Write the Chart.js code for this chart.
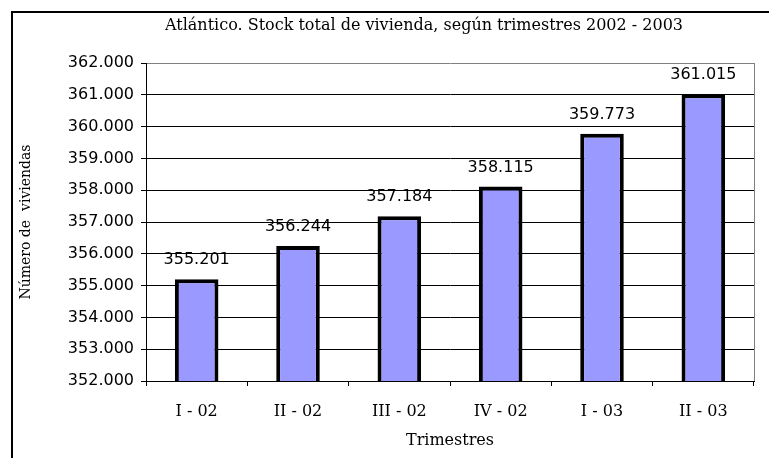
<!DOCTYPE html>
<html>
<head>
<meta charset="utf-8">
<script src="https://cdn.jsdelivr.net/npm/chart.js@4/dist/chart.umd.min.js"></script>
<style>
  html, body { margin: 0; padding: 0; background: #fff; overflow: hidden; }
  #frame { position: absolute; left: 11px; top: 11px; width: 900px; height: 600px; border-left: 2px solid #000; border-top: 2px solid #000; }
  #wrap { position: absolute; left: 0; top: 0; width: 769px; height: 458px; }
</style>
</head>
<body>
<div id="frame"></div>
<div id="wrap"><canvas id="canvas" width="769" height="458"></canvas></div>
<script>
'use strict';

const quarters = ['I - 02', 'II - 02', 'III - 02', 'IV - 02', 'I - 03', 'II - 03'];
const housingStock = [355201, 356244, 357184, 358115, 359773, 361015];
const yMin = 352000;
const yMax = 362000;
const yStep = 1000;

const chartTitle = 'Atlántico. Stock total de vivienda, según trimestres 2002 - 2003';
const yTitle = 'Número de  viviendas';
const xTitle = 'Trimestres';

function formatThousands(value) {
  return String(Math.round(value)).replace(/\B(?=(\d{3})+(?!\d))/g, '.');
}

// title, value labels above the bars and the grey right edge of the plot
const extras = {
  id: 'extras',
  afterDatasetsDraw(chart) {
    const ctx = chart.ctx;
    const area = chart.chartArea;
    ctx.save();
    ctx.strokeStyle = '#808080';
    ctx.lineWidth = 1;
    ctx.beginPath();
    ctx.moveTo(area.right + 0.5, area.top);
    ctx.lineTo(area.right + 0.5, area.bottom);
    ctx.stroke();

    ctx.fillStyle = '#000';
    ctx.textAlign = 'center';
    ctx.textBaseline = 'middle';
    ctx.font = '16px "DejaVu Serif"';
    ctx.fillText(chartTitle, 424, 26);

    ctx.font = '16px "DejaVu Sans"';
    const meta = chart.getDatasetMeta(0);
    meta.data.forEach(function(bar, i) {
      ctx.fillText(formatThousands(housingStock[i]), bar.x, bar.y - 19);
    });
    ctx.restore();
  }
};

const ctx = document.getElementById('canvas').getContext('2d');
new Chart(ctx, {
  type: 'bar',
  data: {
    labels: quarters,
    datasets: [{
      data: housingStock,
      backgroundColor: '#9999FF',
      borderColor: '#000000',
      borderWidth: 4,
      borderSkipped: false,
      barPercentage: 0.43,
      categoryPercentage: 1
    }]
  },
  plugins: [extras],
  options: {
    responsive: false,
    animation: false,
    layout: { padding: { left: 14, right: 15, top: 63, bottom: 0 } },
    plugins: {
      legend: { display: false },
      tooltip: { enabled: false },
      title: { display: false }
    },
    scales: {
      x: {
        afterFit: function(scale) { scale.height = 77; },
        border: { color: '#000', width: 1 },
        grid: { drawOnChartArea: false, drawTicks: true, tickLength: 5, tickColor: '#000', offset: true },
        ticks: {
          color: '#000',
          padding: 16,
          maxRotation: 0,
          font: { family: 'DejaVu Serif', size: 16 }
        },
        title: {
          display: true,
          text: xTitle,
          color: '#000',
          font: { family: 'DejaVu Serif', size: 16 },
          padding: { top: 0, bottom: 8 }
        }
      },
      y: {
        min: yMin,
        max: yMax,
        afterFit: function(scale) { scale.width = 132; },
        border: { color: '#000', width: 1 },
        grid: {
          color: function(c) { return c.tick && c.tick.value === yMax ? '#808080' : '#000'; },
          lineWidth: 1,
          tickLength: 5,
          tickColor: '#000'
        },
        ticks: {
          stepSize: yStep,
          color: '#000',
          padding: 7,
          font: { family: 'DejaVu Sans', size: 16 },
          callback: function(value) { return formatThousands(value); }
        },
        title: {
          display: true,
          text: yTitle,
          color: '#000',
          font: { family: 'DejaVu Serif', size: 14 },
          padding: { top: 4, bottom: 0 }
        }
      }
    }
  }
});
</script>
</body>
</html>
